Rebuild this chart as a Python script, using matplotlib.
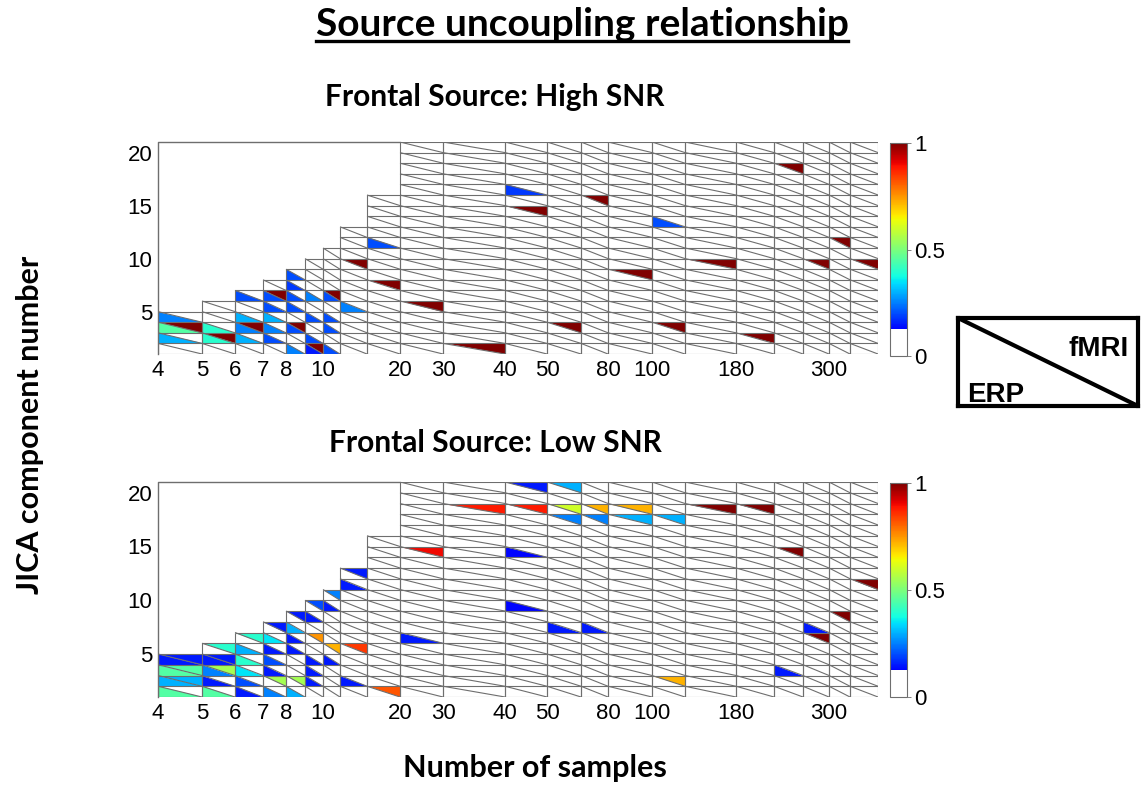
import matplotlib
matplotlib.use('Agg')
import matplotlib.pyplot as plt
import numpy as np
from matplotlib.colors import ListedColormap, Normalize
from matplotlib.collections import PolyCollection, LineCollection
from matplotlib.lines import Line2D

# ---------------- data ----------------
col_samples = [4, 5, 6, 7, 8, 9, 10, 12, 15, 20, 30, 40, 50, 60, 80, 100, 120, 180, 200, 250, 300, 350]
col_widths = [44, 33, 28, 23, 19, 18, 17, 27, 33, 43, 62, 42, 34, 27, 44, 33, 51, 38, 29, 26, 21, 28]
tick_samples = [4, 5, 6, 7, 8, 10, 20, 30, 40, 50, 80, 100, 180, 300]
comp_ticks = [5, 10, 15, 20]
max_comp = 20

# (sample size, component, side E=ERP / F=fMRI, value)
high_snr = [
    (4, 4, 'E', 0.25), (4, 3, 'E', 0.45), (4, 3, 'F', 1.0), (4, 2, 'E', 0.3),
    (5, 3, 'E', 0.4), (5, 2, 'E', 0.4), (5, 2, 'F', 1.0),
    (6, 6, 'E', 0.2), (6, 4, 'E', 0.3), (6, 3, 'E', 0.25), (6, 3, 'F', 1.0), (6, 2, 'E', 0.3),
    (7, 6, 'E', 0.2), (7, 6, 'F', 1.0), (7, 5, 'E', 0.2), (7, 4, 'E', 0.3), (7, 3, 'E', 0.25), (7, 2, 'E', 0.2),
    (8, 8, 'E', 0.2), (8, 7, 'E', 0.18), (8, 6, 'E', 0.2), (8, 5, 'E', 0.2), (8, 3, 'F', 1.0), (8, 3, 'E', 0.2), (8, 1, 'E', 0.25),
    (9, 6, 'E', 0.25), (9, 4, 'E', 0.2), (9, 2, 'E', 0.2), (9, 1, 'F', 1.0), (9, 1, 'E', 0.15),
    (10, 6, 'F', 1.0), (10, 6, 'E', 0.2), (10, 4, 'E', 0.2), (10, 3, 'E', 0.2), (10, 1, 'E', 0.2),
    (12, 9, 'F', 1.0), (12, 5, 'E', 0.25),
    (15, 11, 'E', 0.2), (15, 7, 'F', 1.0),
    (20, 5, 'F', 1.0),
    (30, 1, 'F', 1.0),
    (40, 16, 'E', 0.18), (40, 14, 'F', 1.0),
    (50, 3, 'F', 1.0),
    (60, 15, 'F', 1.0),
    (80, 8, 'F', 1.0),
    (100, 13, 'E', 0.2), (100, 3, 'F', 1.0),
    (120, 9, 'F', 1.0),
    (180, 2, 'F', 1.0),
    (200, 18, 'F', 1.0),
    (250, 9, 'F', 1.0),
    (300, 11, 'F', 1.0),
    (350, 9, 'F', 1.0),
]

low_snr = [
    (4, 4, 'E', 0.15), (4, 4, 'F', 0.15), (4, 3, 'E', 0.45), (4, 3, 'F', 0.45), (4, 2, 'E', 0.3), (4, 2, 'F', 0.3), (4, 1, 'E', 0.45),
    (5, 5, 'F', 0.4), (5, 4, 'E', 0.15), (5, 4, 'F', 0.15), (5, 3, 'E', 0.25), (5, 3, 'F', 0.55), (5, 2, 'E', 0.15), (5, 1, 'E', 0.45),
    (6, 6, 'F', 0.4), (6, 5, 'E', 0.3), (6, 4, 'E', 0.4), (6, 3, 'E', 0.35), (6, 2, 'E', 0.2), (6, 1, 'E', 0.15),
    (7, 7, 'F', 0.15), (7, 6, 'E', 0.35), (7, 5, 'E', 0.15), (7, 4, 'E', 0.2), (7, 3, 'E', 0.15), (7, 2, 'F', 0.55), (7, 1, 'E', 0.25),
    (8, 8, 'F', 0.15), (8, 7, 'E', 0.3), (8, 6, 'E', 0.15), (8, 5, 'E', 0.15), (8, 2, 'F', 0.55), (8, 1, 'E', 0.3),
    (9, 9, 'F', 0.2), (9, 8, 'E', 0.15), (9, 6, 'F', 0.75), (9, 4, 'E', 0.15), (9, 3, 'E', 0.15), (9, 2, 'E', 0.15),
    (10, 10, 'F', 0.25), (10, 9, 'E', 0.15), (10, 5, 'F', 0.72), (10, 4, 'E', 0.15),
    (12, 12, 'F', 0.15), (12, 11, 'E', 0.15), (12, 5, 'F', 0.85), (12, 2, 'E', 0.15),
    (15, 1, 'F', 0.82),
    (20, 14, 'F', 0.9), (20, 6, 'E', 0.15),
    (30, 18, 'F', 0.88),
    (40, 20, 'F', 0.15), (40, 18, 'F', 0.88), (40, 14, 'E', 0.13), (40, 9, 'E', 0.13),
    (50, 20, 'F', 0.3), (50, 18, 'F', 0.6), (50, 17, 'F', 0.25), (50, 7, 'E', 0.15),
    (60, 18, 'F', 0.72), (60, 17, 'F', 0.25), (60, 7, 'E', 0.15),
    (80, 18, 'F', 0.72), (80, 17, 'F', 0.3),
    (100, 17, 'F', 0.3), (100, 2, 'F', 0.72),
    (120, 18, 'F', 1.0),
    (180, 18, 'F', 1.0),
    (200, 14, 'F', 1.0), (200, 3, 'E', 0.15),
    (250, 7, 'E', 0.15), (250, 6, 'F', 1.0),
    (300, 8, 'F', 1.0),
    (350, 11, 'F', 1.0),
]

# ---------------- style ----------------
jet = plt.get_cmap('jet')(np.linspace(0, 1, 256))
jet[:32] = [1, 1, 1, 1]
cmap = ListedColormap(jet)
norm = Normalize(0, 1)
grid_col = '#6e6e6e'

fig = plt.figure(figsize=(11.41, 7.85), dpi=100)

edges = np.concatenate([[0], np.cumsum(col_widths)])
col_of = {s: i for i, s in enumerate(col_samples)}


def draw_panel(ax, data):
    polys, vals = [], []
    for s, k, side, v in data:
        i = col_of[s]
        xl, xr = edges[i], edges[i + 1]
        yb, yt = k - 0.5, k + 0.5
        if side == 'E':
            polys.append([(xl, yt), (xl, yb), (xr, yb)])
        else:
            polys.append([(xl, yt), (xr, yt), (xr, yb)])
        vals.append(v)
    pc = PolyCollection(polys, array=np.array(vals), cmap=cmap, norm=norm,
                        edgecolors='none', zorder=1)
    ax.add_collection(pc)
    segs = []
    for i, s in enumerate(col_samples):
        n = min(s, max_comp)
        xl, xr = edges[i], edges[i + 1]
        segs.append([(xl, 0.5), (xl, n + 0.5)])
        segs.append([(xr, 0.5), (xr, n + 0.5)])
        for k in range(1, n + 2):
            segs.append([(xl, k - 0.5), (xr, k - 0.5)])
        for k in range(1, n + 1):
            segs.append([(xl, k + 0.5), (xr, k - 0.5)])
    ax.add_collection(LineCollection(segs, colors=grid_col, linewidths=0.8, zorder=2))
    i20 = col_of[20]
    ax.plot([edges[0], edges[0], edges[i20]], [0.5, max_comp + 0.5, max_comp + 0.5],
            color=grid_col, lw=1.0, zorder=3, clip_on=False)
    ax.set_xlim(edges[0], edges[-1])
    ax.set_ylim(0.5, max_comp + 0.5)
    for sp in ax.spines.values():
        sp.set_visible(False)
    ax.set_xticks([edges[col_of[t]] for t in tick_samples])
    ax.set_xticklabels([str(t) for t in tick_samples], fontsize=16,
                       fontfamily='Liberation Sans')
    # labels sit half a row below the component rows in the original
    ax.set_yticks([c - 0.5 for c in comp_ticks])
    ax.set_yticklabels([str(t) for t in comp_ticks], fontsize=16,
                       fontfamily='Liberation Sans')
    ax.tick_params(length=0, pad=4)
    return pc


W, H = 1141, 785


def fig_rect(x0, y0, x1, y1):
    return [x0 / W, 1 - y1 / H, (x1 - x0) / W, (y1 - y0) / H]


ax1 = fig.add_axes(fig_rect(158, 142, 878, 354))
pc1 = draw_panel(ax1, high_snr)
ax2 = fig.add_axes(fig_rect(158, 482, 878, 697))
pc2 = draw_panel(ax2, low_snr)

for rect, pc in [((890, 143, 907, 356), pc1), ((890, 483, 907, 697), pc2)]:
    cax = fig.add_axes(fig_rect(*rect))
    cb = fig.colorbar(pc, cax=cax, ticks=[0, 0.5, 1])
    cb.ax.set_yticklabels(['0', '0.5', '1'], fontsize=16, fontfamily='Liberation Sans')
    cb.outline.set_edgecolor(grid_col)
    cb.outline.set_linewidth(0.8)
    cb.ax.tick_params(length=3, width=0.6, color=grid_col, pad=2)

title_font = dict(family='Lato', weight='bold')
t = fig.text(582 / W, 1 - 24 / H, 'Source uncoupling relationship', ha='center', va='center',
             fontsize=28, **title_font)
fig.text(495 / W, 1 - 97 / H, 'Frontal Source: High SNR', ha='center', va='center',
         fontsize=21.5, **title_font)
fig.text(495 / W, 1 - 443 / H, 'Frontal Source: Low SNR', ha='center', va='center',
         fontsize=21.5, **title_font)
fig.text(30 / W, 1 - 425 / H, 'JICA component number', ha='center', va='center',
         rotation=90, fontsize=22, **title_font)
fig.text(535 / W, 1 - 768 / H, 'Number of samples', ha='center', va='center',
         fontsize=22, **title_font)

fig.canvas.draw()
bb = t.get_window_extent().transformed(fig.transFigure.inverted())
fig.add_artist(Line2D([bb.x0, bb.x1], [bb.y0 + 0.001, bb.y0 + 0.001], color='black',
                      lw=2.4, transform=fig.transFigure))

lax = fig.add_axes(fig_rect(958, 318, 1138, 406))
lax.set_xlim(0, 1)
lax.set_ylim(0, 1)
lax.set_xticks([])
lax.set_yticks([])
for sp in lax.spines.values():
    sp.set_linewidth(3)
    sp.set_color('black')
lax.plot([0, 1], [1, 0], color='black', lw=3)
lax.text(0.95, 0.65, 'fMRI', ha='right', va='center', fontsize=20, fontweight='bold',
         fontfamily='Liberation Sans')
lax.text(0.05, 0.13, 'ERP', ha='left', va='center', fontsize=20, fontweight='bold',
         fontfamily='Liberation Sans')

fig.savefig('out.png', dpi=100)
